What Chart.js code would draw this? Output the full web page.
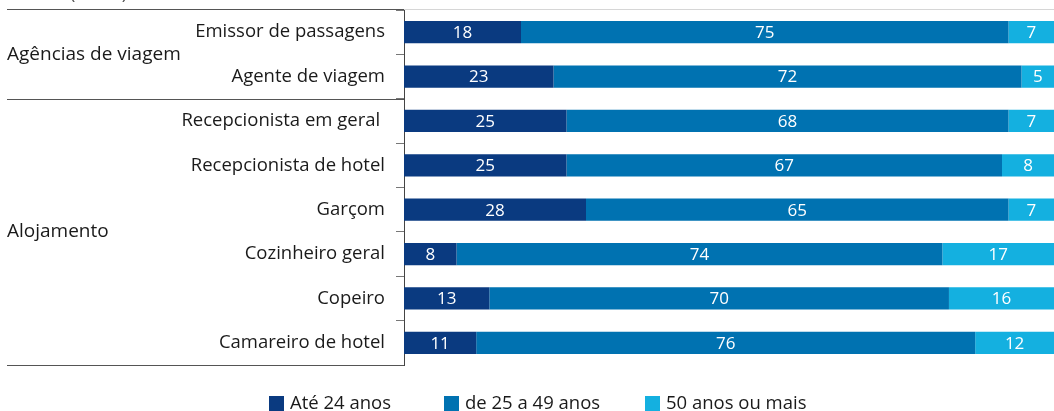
<!DOCTYPE html>
<html>
<head>
<meta charset="utf-8">
<script src="https://cdn.jsdelivr.net/npm/chart.js@4.4.0/dist/chart.umd.min.js"></script>
<style>
  html, body { margin: 0; padding: 0; background: #fff; }
  #wrap { width: 1054px; height: 411px; position: relative; }
</style>
</head>
<body>
<div id="wrap"><canvas id="myChart"></canvas></div>
<script>
const categories = ["Emissor de passagens", "Agente de viagem", "Recepcionista em geral ", "Recepcionista de hotel", "Garçom", "Cozinheiro geral", "Copeiro", "Camareiro de hotel"];
const groups = ["Agências de viagem", "Alojamento"];
const groupSizes = [2, 6];
const seriesNames = ["Até 24 anos", "de 25 a 49 anos", "50 anos ou mais"];
const ate24 = [18, 23, 25, 25, 28, 8, 13, 11];
const de25a49 = [75, 72, 68, 67, 65, 74, 70, 76];
const mais50 = [7, 5, 7, 8, 7, 17, 16, 12];
const colors = ["#0a3a80", "#0072b1", "#14b0e0"];

const FONT = "'Open Sans', sans-serif";
Chart.defaults.font.family = FONT;

// each row is shown as 100%, labels keep the published numbers
const series = [ate24, de25a49, mais50];
const totals = categories.map((c, i) => ate24[i] + de25a49[i] + mais50[i]);
const legendX = [269, 444, 645];

const extras = {
  id: "extras",
  afterDatasetsDraw(chart) {
    const ctx = chart.ctx;
    const area = chart.chartArea;
    const y = chart.scales.y;

    ctx.save();
    // cut-off caption at the very top
    ctx.font = "18px " + FONT;
    ctx.fillStyle = "#555";
    ctx.textAlign = "left";
    ctx.textBaseline = "alphabetic";
    ctx.fillText("(em %)", 70, -1);

    // values inside the bars
    ctx.font = "17px " + FONT;
    ctx.fillStyle = "#fff";
    ctx.textAlign = "center";
    ctx.textBaseline = "middle";
    chart.data.datasets.forEach((ds, i) => {
      chart.getDatasetMeta(i).data.forEach((bar, j) => {
        ctx.fillText(ds.raw[j], (bar.base + bar.x) / 2, bar.y + 1);
      });
    });

    // group lines and labels
    const top = Math.round(area.top) - 0.5;
    ctx.strokeStyle = "#d6d6d6";
    ctx.lineWidth = 1;
    ctx.beginPath();
    ctx.moveTo(area.left, top);
    ctx.lineTo(area.right, top);
    ctx.stroke();

    ctx.strokeStyle = "#555";
    ctx.font = "19px " + FONT;
    ctx.fillStyle = "#1a1a1a";
    ctx.textAlign = "left";
    let start = 0;
    const lineAt = (py) => {
      ctx.beginPath();
      ctx.moveTo(7, py);
      ctx.lineTo(area.left, py);
      ctx.stroke();
    };
    lineAt(top);
    groups.forEach((g, k) => {
      const end = start + groupSizes[k] - 1;
      const y0 = y.getPixelForValue(start);
      const y1 = y.getPixelForValue(end);
      ctx.fillText(g, 7, (y0 + y1) / 2);
      lineAt(Math.round(y.getPixelForValue(end + 0.5)) + 0.5);
      start = end + 1;
    });

    // legend
    ctx.font = "18.5px " + FONT;
    const ly = 403;
    chart.data.datasets.forEach((ds, i) => {
      const lx = legendX[i];
      ctx.fillStyle = ds.backgroundColor;
      ctx.fillRect(lx, ly - 7, 15, 15);
      ctx.fillStyle = "#1a1a1a";
      ctx.fillText(ds.label, lx + 21, ly + 1);
    });
    ctx.restore();
  }
};

new Chart(document.getElementById("myChart"), {
  type: "bar",
  data: {
    labels: categories,
    datasets: series.map((vals, i) => ({
      label: seriesNames[i],
      data: vals.map((v, j) => v / totals[j] * 100),
      raw: vals,
      backgroundColor: colors[i],
      borderWidth: 0,
      barPercentage: 0.5,
      categoryPercentage: 1.0,
    })),
  },
  options: {
    indexAxis: "y",
    responsive: true,
    maintainAspectRatio: false,
    animation: false,
    layout: { padding: { top: 10, bottom: 46, left: 0, right: 0 } },
    plugins: {
      legend: { display: false },
      tooltip: { enabled: false },
    },
    scales: {
      x: {
        stacked: true,
        min: 0,
        max: 100,
        display: false,
      },
      y: {
        stacked: true,
        afterFit(scale) {
          scale.width = 404;
          scale.paddingTop = 0;
          scale.paddingBottom = 0;
        },
        grid: {
          offset: true,
          drawOnChartArea: false,
          tickLength: 8,
          color: "#777",
        },
        border: { color: "#444", width: 1 },
        ticks: {
          padding: 11,
          color: "#1a1a1a",
          autoSkip: false,
          font: { size: 18.5 },
        },
      },
    },
  },
  plugins: [extras],
});
</script>
</body>
</html>
